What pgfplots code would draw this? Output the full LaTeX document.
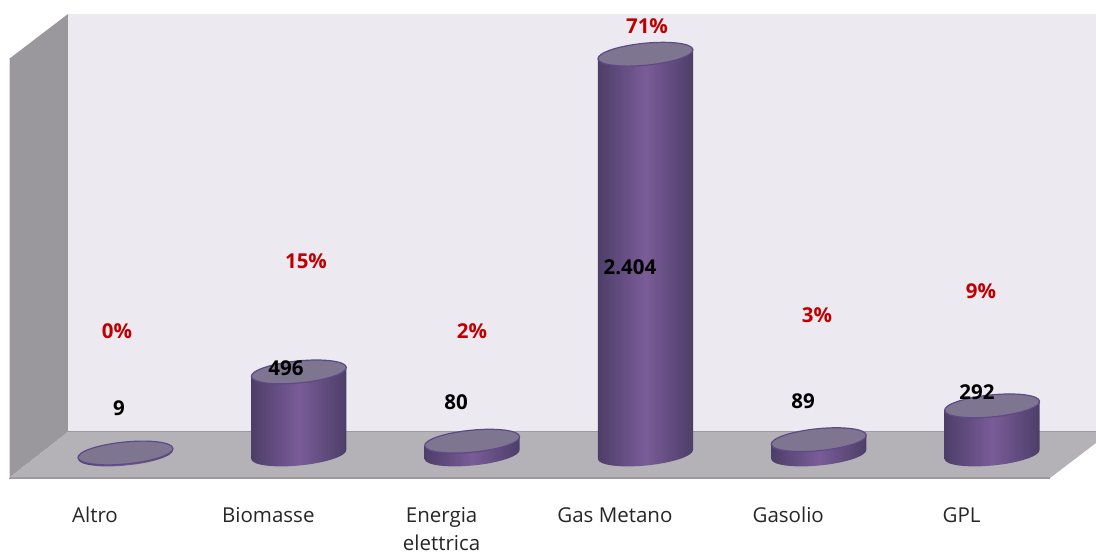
\documentclass[border=0pt]{standalone}
\usepackage{fontspec}
\setmainfont{Open Sans}
\usepackage{pgfplots}
\usepackage{pgfplotstable}
\pgfplotsset{compat=1.18}
\definecolor{backwall}{HTML}{ECEAF0}
\definecolor{sidewall}{HTML}{9A989C}
\definecolor{floorc}{HTML}{B4B2B6}
\definecolor{flooredge}{HTML}{9C9A9E}
\definecolor{cyltop}{HTML}{7E7590}
\definecolor{cyledge}{HTML}{5E4A86}
\definecolor{cyldark}{HTML}{4C3E68}
\definecolor{cylmid}{HTML}{7A5C98}
\definecolor{pcred}{HTML}{C00000}
\pgfplotstableread{
x v
0 9
1 496
2 80
3 2404
4 89
5 292
}\consumi
\begin{document}
\begin{tikzpicture}[x=1pt,y=1pt]
\path[use as bounding box] (0,0) rectangle (1096,553);
\begin{scope}[shift={(0,553)},y=-1pt]
\fill[backwall] (68,14) rectangle (1096,432);
\fill[sidewall] (9,59) -- (68,14) -- (68,432) -- (9,478) -- cycle;
\draw[white!80!sidewall,line width=1pt] (68,14) -- (68,432);
\fill[floorc] (9,478) -- (68,432) -- (1096,432) -- (1096,443) -- (1050,478) -- cycle;
\draw[flooredge,line width=1pt] (68,432) -- (1096,432);
\draw[flooredge,line width=2pt] (9,478) -- (1050,478);
\draw[white!70!sidewall,line width=0.8pt] (9,59) -- (9,478);
\end{scope}
\begin{axis}[
  at={(0pt,75pt)},anchor=south west,
  scale only axis,width=1096pt,height=478pt,
  xmin=-0.7242,xmax=5.6001,ymin=-141.1,ymax=2729.7,
  axis line style={draw=none},
  tick style={draw=none},
  ytick=\empty,
  xtick={-0.176,0.824,1.824,2.824,3.824,4.824},
  xticklabels={\strut Altro,\strut Biomasse,\strut Energia\\\strut elettrica,\strut Gas Metano,\strut Gasolio,\strut GPL},
  xticklabel style={align=center,anchor=north,yshift=-21pt,font=\fontsize{20.5}{28}\selectfont,text=black!85},
  clip=false,
]
\addplot[
  only marks,scatter,mark=none,
  visualization depends on={rawy \as \cylv},
  scatter/@pre marker code/.code={%
    \pgfmathsetmacro{\h}{\cylv*0.1665}%
    \shade[draw=none,left color=cyldark,right color=cyldark,middle color=cylmid]
      (-47.6pt,-4.4pt) -- (-47.6pt,-\h pt-4.4pt) -- (47.6pt,-\h pt+4.4pt) -- (47.6pt,4.4pt) -- cycle
      (0pt,-\h pt) circle [x radius=47.7pt,y radius=11pt,rotate=5.6];
    \draw[cyledge,line width=1.2pt,fill=cyltop] (0pt,0pt) circle [x radius=47.7pt,y radius=11pt,rotate=5.6];
  },
  scatter/@post marker code/.code={},
] table[x=x,y=v] {\consumi};
\end{axis}
\begin{scope}[shift={(0,553)},y=-1pt]
\tikzset{val/.style={font=\bfseries\fontsize{20.5}{24}\selectfont,text=black},
         pct/.style={font=\bfseries\fontsize{20.5}{24}\selectfont,text=pcred}}
\node[val] at (119,408) {9};
\node[val] at (286,368) {496};
\node[val] at (456,402) {80};
\node[val] at (630,267) {2.404};
\node[val] at (803,401) {89};
\node[val] at (977,392) {292};
\node[pct] at (117,331) {0\%};
\node[pct] at (306,261) {15\%};
\node[pct] at (472,331) {2\%};
\node[pct] at (647,26) {71\%};
\node[pct] at (817,315) {3\%};
\node[pct] at (981,291) {9\%};
\end{scope}
\end{tikzpicture}
\end{document}
